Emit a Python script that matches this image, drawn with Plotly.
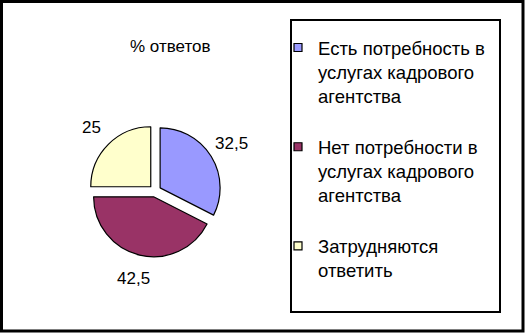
import math
import plotly.graph_objects as go

W, H = 527, 333

categories = [
    "Есть потребность в<br>услугах кадрового<br>агентства<br> ",
    "Нет потребности в<br>услугах кадрового<br>агентства<br> ",
    "Затрудняются<br>ответить",
]
values = [32.5, 42.5, 25]
value_labels = ["32,5", "42,5", "25"]
colors = ["#9999FF", "#993366", "#FFFFCC"]
title_text = "% ответов"

FONT = "Liberation Sans, Arial"

# pie geometry (pixels)
cx, cy, r, pull = 155, 191, 60, 0.1
half = r * (1 + pull)

fig = go.Figure()
fig.add_trace(go.Pie(
    labels=categories,
    values=values,
    sort=False,
    direction="clockwise",
    rotation=0,
    pull=[pull] * len(values),
    marker=dict(colors=colors, line=dict(color="black", width=1.2)),
    textinfo="none",
    hoverinfo="label+value",
    domain=dict(x=[(cx - half) / W, (cx + half) / W],
                y=[(H - cy - half) / H, (H - cy + half) / H]),
))

# value labels placed along each slice's mid-angle
annotations = []
total = sum(values)
cum = 0.0
for v, t in zip(values, value_labels):
    mid = (cum + v / 2) / total * 2 * math.pi
    cum += v
    k = 1.5 * r
    xs = cx + k * math.sin(mid)
    ys = cy - k * math.cos(mid)
    annotations.append(dict(x=xs / W, y=(H - ys) / H, xref="paper", yref="paper",
                            text=t, showarrow=False, xanchor="center", yanchor="middle",
                            font=dict(family=FONT, size=17, color="black")))

annotations.append(dict(x=170 / W, y=(H - 46) / H, xref="paper", yref="paper",
                        text=title_text, showarrow=False, xanchor="center", yanchor="middle",
                        font=dict(family=FONT, size=17, color="black")))

shapes = [
    dict(type="rect", xref="paper", yref="paper", x0=1.5 / W, x1=523 / W, y0=(H - 331) / H, y1=(H - 1.5) / H,
         line=dict(color="black", width=3)),
    dict(type="rect", xref="paper", yref="paper", x0=291 / W, x1=500 / W, y0=(H - 312) / H, y1=(H - 20) / H,
         line=dict(color="black", width=2)),
]

fig.update_layout(
    width=W, height=H,
    margin=dict(l=0, r=0, t=0, b=0),
    paper_bgcolor="white", plot_bgcolor="white",
    showlegend=True,
    legend=dict(x=278 / W, y=(H - 29) / H, xanchor="left", yanchor="top",
                valign="top", bgcolor="rgba(0,0,0,0)", borderwidth=0,
                font=dict(family=FONT, size=18.5, color="black"),
                itemclick=False, itemdoubleclick=False),
    annotations=annotations,
    shapes=shapes,
)

post = (
    "document.body.style.margin='0';"
    "document.querySelectorAll('.legendpie').forEach(function(p){p.setAttribute('d','M4,4H-4V-4H4Z');});"
)
fig.write_html("out.html", post_script=post, config={"displayModeBar": False})
